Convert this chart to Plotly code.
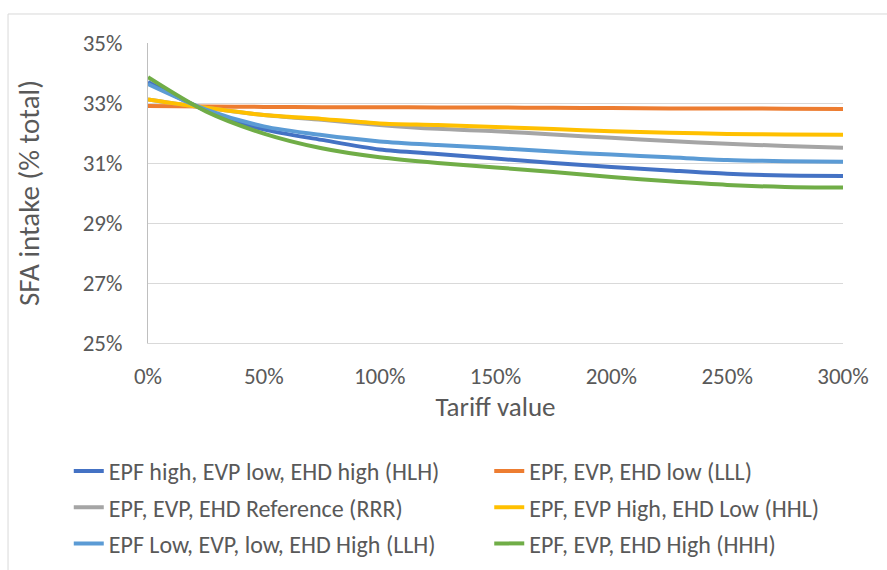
import plotly.graph_objects as go

# Tariff levels (% of base price) at which the scenarios were evaluated
tariff = [0, 25, 50, 75, 100, 125, 150, 175, 200, 225, 250, 275, 300]

# SFA intake as % of total energy, per elasticity scenario
hlh = [33.70, 32.75, 32.12, 31.77, 31.45, 31.30, 31.15, 31.00, 30.87, 30.75, 30.64, 30.58, 30.57]
lll = [32.90, 32.88, 32.87, 32.86, 32.86, 32.85, 32.85, 32.84, 32.83, 32.82, 32.82, 32.81, 32.80]
rrr = [33.12, 32.84, 32.60, 32.44, 32.27, 32.14, 32.06, 31.95, 31.84, 31.73, 31.64, 31.57, 31.51]
hhl = [33.12, 32.84, 32.60, 32.47, 32.32, 32.27, 32.20, 32.13, 32.06, 32.01, 31.97, 31.95, 31.94]
llh = [33.63, 32.78, 32.22, 31.93, 31.72, 31.60, 31.50, 31.38, 31.28, 31.19, 31.10, 31.06, 31.04]
hhh = [33.86, 32.72, 31.98, 31.49, 31.19, 31.00, 30.85, 30.70, 30.53, 30.39, 30.27, 30.20, 30.18]

names = [
    "EPF high, EVP low, EHD high (HLH)",
    "EPF, EVP, EHD low (LLL)",
    "EPF, EVP, EHD Reference (RRR)",
    "EPF, EVP High, EHD Low (HHL)",
    "EPF Low, EVP, low, EHD High (LLH)",
    "EPF, EVP, EHD High (HHH)",
]
series = [hlh, lll, rrr, hhl, llh, hhh]
colors = ["#4472C4", "#ED7D31", "#A5A5A5", "#FFC000", "#5B9BD5", "#70AD47"]
# two-column legend: left column / right column
legend_of = ["legend", "legend2", "legend", "legend2", "legend", "legend2"]

y_ticks = [25, 27, 29, 31, 33, 35]
y_labels = ["25%", "27%", "29%", "31%", "33%", "35%"]
x_ticks = [0, 50, 100, 150, 200, 250, 300]
x_labels = ["0%", "50%", "100%", "150%", "200%", "250%", "300%"]

FONT = "Carlito, Calibri, Lato, sans-serif"
TXT = "#595959"

fig = go.Figure()
for name, vals, col, lg in zip(names, series, colors, legend_of):
    fig.add_trace(go.Scatter(
        x=tariff, y=vals, name=name, mode="lines",
        line=dict(color=col, width=4, shape="spline", smoothing=0.8),
        legend=lg, legendgroup=name,
    ))

legend_common = dict(
    orientation="v", yanchor="top", y=-0.353,
    font=dict(family=FONT, size=24, color=TXT),
    bgcolor="rgba(0,0,0,0)", tracegroupgap=2, itemwidth=30,
)

fig.update_layout(
    width=887, height=570,
    margin=dict(l=148, r=44, t=43, b=227, autoexpand=False),
    paper_bgcolor="white", plot_bgcolor="white",
    font=dict(family=FONT, color=TXT),
    showlegend=True,
    legend=dict(x=-0.114, xanchor="left", **legend_common),
    legend2=dict(x=0.491, xanchor="left", **legend_common),
    xaxis=dict(
        range=[0, 300], tickvals=x_ticks, ticktext=x_labels,
        showgrid=False, zeroline=False,
        showline=True, linecolor="#D9D9D9", linewidth=1,
        tickfont=dict(family=FONT, size=23, color=TXT),
        ticklabelstandoff=12,
        title=dict(text="Tariff value", font=dict(family=FONT, size=27, color=TXT), standoff=2),
    ),
    yaxis=dict(
        range=[25, 35], tickvals=y_ticks, ticktext=y_labels,
        showgrid=True, gridcolor="#D9D9D9", gridwidth=1, zeroline=False,
        showline=True, linecolor="#BFBFBF", linewidth=1,
        tickfont=dict(family=FONT, size=23, color=TXT),
        ticklabelstandoff=20,
        title=dict(text="SFA intake (% total)", font=dict(family=FONT, size=29, color=TXT), standoff=34),
    ),
    shapes=[dict(
        type="rect", xref="paper", yref="paper",
        x0=-0.2014, x1=1.1, y0=-0.8, y1=1.0967,
        line=dict(color="#D9D9D9", width=1), fillcolor="rgba(0,0,0,0)", layer="below",
    )],
)

fig.write_html("out.html")
